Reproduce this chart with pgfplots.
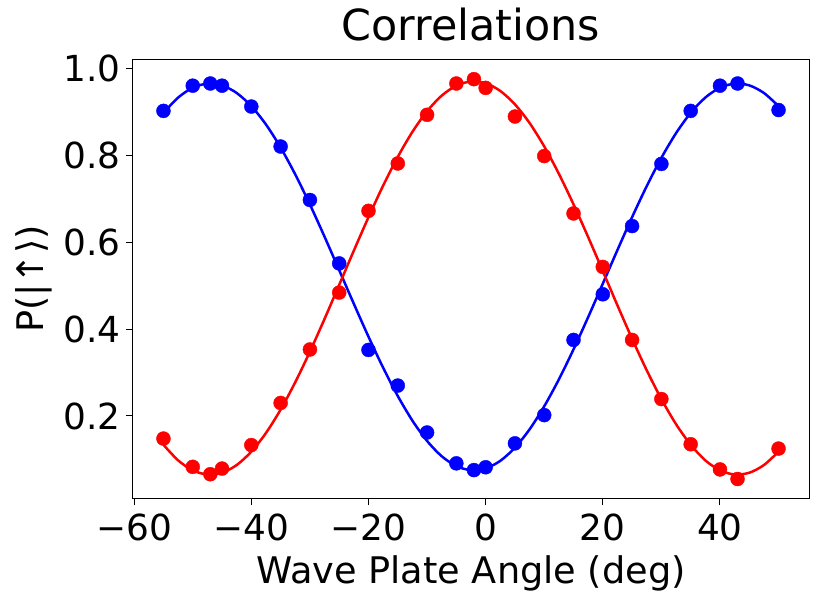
\documentclass[border=0pt]{standalone}
\usepackage{fontspec}
\setmainfont{DejaVu Sans}
\usepackage{pgfplots}
\pgfplotsset{compat=1.18}
\definecolor{mblue}{RGB}{0,0,255}
\definecolor{mred}{RGB}{255,0,0}
\begin{document}
\begin{tikzpicture}
\useasboundingbox (-132.7bp,-107.7bp) rectangle (698.3bp,498.3bp);
\begin{axis}[
  scale only axis, width=676.6bp, height=439bp,
  xmin=-60.25, xmax=55.25, ymin=0.0106, ymax=1.0207,
  xtick={-60,-40,-20,0,20,40}, xticklabels={−60,−40,−20,0,20,40},
  ytick={0.2,0.4,0.6,0.8,1.0}, yticklabels={0.2,0.4,0.6,0.8,1.0},
  tick align=outside, tick pos=left, major tick length=7bp,
  every tick/.style={black, line width=1bp},
  axis line style={black, line width=1bp},
  xticklabel style={font=\fontsize{36}{43}\selectfont, anchor=base, yshift=-35.4bp},
  yticklabel style={font=\fontsize{36}{43}\selectfont, anchor=east, inner sep=0pt, xshift=-5.2bp},
  xlabel={Wave Plate Angle (deg)},
  xlabel style={font=\fontsize{36.8}{44}\selectfont, at={(axis description cs:0.5,-0.1936)}, anchor=base},
  ylabel={P(|↑⟩)},
  ylabel style={font=\fontsize{36.8}{44}\selectfont, at={(axis description cs:-0.1321,0.5)}, anchor=base, rotate=0},
  title={Correlations},
  title style={font=\fontsize{43}{52}\selectfont, at={(axis description cs:0.5,1.0287)}, anchor=base},
  clip=false,
]
% fitted curves
\addplot[mblue, line width=2.5bp, smooth, no markers] coordinates {
(-55,0.8974)(-52.5,0.9326)(-50,0.9553)(-47.5,0.9647)(-45,0.9607)(-42.5,0.9432)(-40,0.9129)(-37.5,0.8707)(-35,0.8177)(-32.5,0.7558)(-30,0.6867)(-27.5,0.6125)(-25,0.5355)(-22.5,0.4581)(-20,0.3825)(-17.5,0.3111)(-15,0.2460)(-12.5,0.1893)(-10,0.1426)(-7.5,0.1074)(-5,0.0847)(-2.5,0.0753)(0,0.0793)(2.5,0.0968)(5,0.1271)(7.5,0.1693)(10,0.2223)(12.5,0.2842)(15,0.3533)(17.5,0.4275)(20,0.5045)(22.5,0.5819)(25,0.6575)(27.5,0.7289)(30,0.7940)(32.5,0.8507)(35,0.8974)(37.5,0.9326)(40,0.9553)(42.5,0.9647)(45,0.9607)(47.5,0.9432)(50,0.9129)};
\addplot[mred, line width=2.5bp, smooth, no markers] coordinates {
(-55,0.1338)(-52.5,0.0979)(-50,0.0749)(-47.5,0.0653)(-45,0.0694)(-42.5,0.0871)(-40,0.1180)(-37.5,0.1609)(-35,0.2147)(-32.5,0.2777)(-30,0.3480)(-27.5,0.4234)(-25,0.5017)(-22.5,0.5805)(-20,0.6573)(-17.5,0.7300)(-15,0.7961)(-12.5,0.8538)(-10,0.9012)(-7.5,0.9371)(-5,0.9601)(-2.5,0.9697)(0,0.9656)(2.5,0.9479)(5,0.9170)(7.5,0.8741)(10,0.8203)(12.5,0.7573)(15,0.6870)(17.5,0.6116)(20,0.5333)(22.5,0.4545)(25,0.3777)(27.5,0.3050)(30,0.2389)(32.5,0.1812)(35,0.1338)(37.5,0.0979)(40,0.0749)(42.5,0.0653)(45,0.0694)(47.5,0.0871)(50,0.1180)};
% measured points
\addplot[only marks, mark=*, mark size=7bp, mblue, mark options={draw=mblue, fill=mblue}] coordinates {
(-55,0.902)(-50,0.960)(-47,0.965)(-45,0.960)(-40,0.912)(-35,0.820)(-30,0.697)(-25,0.551)(-20,0.352)(-15,0.270)(-10,0.162)(-5,0.091)(-2,0.0755)(0,0.082)(5,0.137)(10,0.202)(15,0.375)(20,0.480)(25,0.637)(30,0.780)(35,0.902)(40,0.960)(43,0.965)(50,0.904)};
\addplot[only marks, mark=*, mark size=7bp, mred, mark options={draw=mred, fill=mred}] coordinates {
(-55,0.148)(-50,0.083)(-47,0.066)(-45,0.079)(-40,0.133)(-35,0.230)(-30,0.353)(-25,0.484)(-20,0.672)(-15,0.781)(-10,0.893)(-5,0.965)(-2,0.975)(0,0.955)(5,0.889)(10,0.798)(15,0.666)(20,0.543)(25,0.375)(30,0.239)(35,0.135)(40,0.077)(43,0.055)(50,0.125)};
\end{axis}
\end{tikzpicture}
\end{document}
